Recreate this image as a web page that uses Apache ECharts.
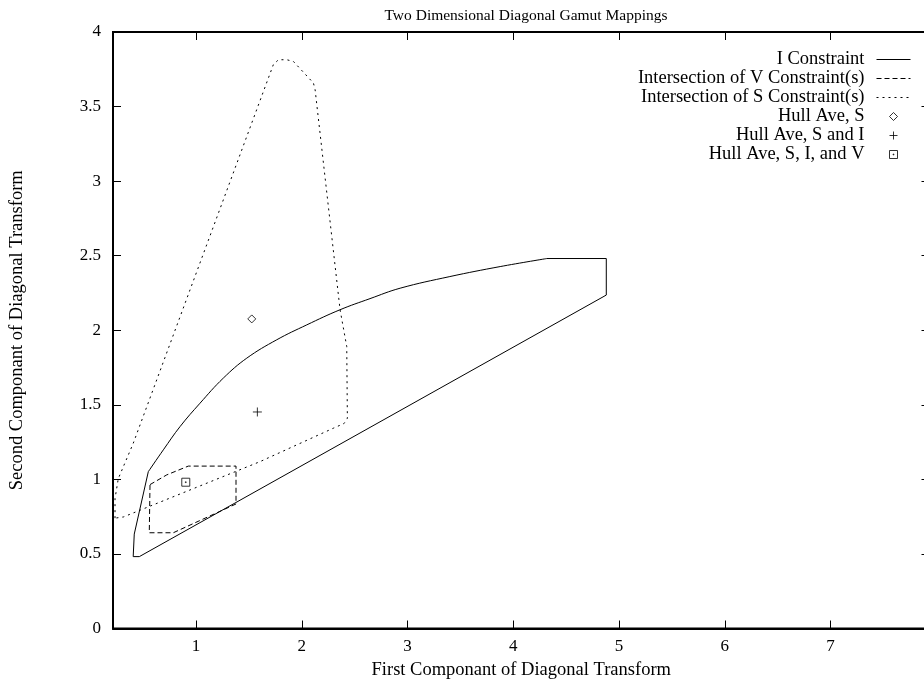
<!DOCTYPE html>
<html>
<head>
<meta charset="utf-8">
<script src="https://cdn.jsdelivr.net/npm/echarts@6/dist/echarts.min.js"></script>
<style>
html, body { margin: 0; padding: 0; background: #fff; }
#chart { width: 924px; height: 684px; }
</style>
</head>
<body>
<div id="chart"></div>
<script>
// ---- data ----
const chartTitle = 'Two Dimensional Diagonal Gamut Mappings';
const xAxisName = 'First Componant of Diagonal Transform';
const yAxisName = 'Second Componant of Diagonal Transform';
const xTickValues = [1, 2, 3, 4, 5, 6, 7];
const yTickValues = [0, 0.5, 1, 1.5, 2, 2.5, 3, 3.5, 4];
const seriesNames = ['I Constraint', 'Intersection of V Constraint(s)', 'Intersection of S Constraint(s)', 'Hull Ave, S', 'Hull Ave, S and I', 'Hull Ave, S, I, and V'];

// I constraint: curved upper boundary and the straight remainder of the outline
const iCurveX = [4.318, 3.876, 3.400, 2.930, 2.645, 2.360, 2.047, 1.763, 1.480, 1.258, 1.038, 0.849, 0.691, 0.549];
const iCurveY = [2.481, 2.427, 2.360, 2.282, 2.212, 2.137, 2.036, 1.936, 1.813, 1.679, 1.511, 1.354, 1.198, 1.052];
const iEdgeX = [0.549, 0.416, 0.406, 0.464, 4.879, 4.879, 4.318];
const iEdgeY = [1.052, 0.633, 0.482, 0.482, 2.236, 2.481, 2.481];

const vConstraintX = [0.565, 0.723, 0.927, 1.378, 1.378, 0.785, 0.558, 0.565];
const vConstraintY = [0.965, 1.030, 1.089, 1.089, 0.835, 0.642, 0.642, 0.965];

const sConstraintX = [0.234, 0.234, 0.265, 0.407, 1.731, 1.779, 1.858, 1.920, 2.110, 2.126, 2.362, 2.425, 2.431, 2.400, 2.298, 1.605, 0.313, 0.234];
const sConstraintY = [0.740, 0.871, 1.005, 1.243, 3.781, 3.814, 3.814, 3.803, 3.658, 3.613, 2.137, 1.891, 1.410, 1.375, 1.343, 1.119, 0.748, 0.740];

const hullSX = [1.527];   const hullSY = [2.076];
const hullSIX = [1.580];  const hullSIY = [1.452];
const hullSIVX = [0.903]; const hullSIVY = [0.981];

const xMin = 0.215, xMax = 7.935, yMin = 0, yMax = 4;

// ---- build chart ----
const FONT = "'Liberation Serif', 'Times New Roman', serif";
const pairs = (xs, ys) => xs.map((x, i) => [x, ys[i]]);

const mkTick = (vals) => ({ show: true, inside: true, length: 8, customValues: vals, lineStyle: { color: '#000', width: 1 } });
const mkLine = () => ({ show: true, onZero: false, lineStyle: { color: '#000', width: 2 } });
const labelStyle = () => ({ color: '#000', fontFamily: FONT, fontSize: 17 });
const nameStyle = () => ({ color: '#000', fontFamily: FONT, fontSize: 18.5 });

const chart = echarts.init(document.getElementById('chart'));

const lineSeries = (name, xs, ys, type, smooth) => ({
  name, type: 'line', data: pairs(xs, ys),
  symbol: 'none', showSymbol: false, smooth: smooth || false,
  lineStyle: { color: '#000', width: 1, type },
  itemStyle: { color: '#000' },
  animation: false, silent: true, z: 3
});
const pointSeries = (name, xs, ys, symbol, size) => ({
  name, type: 'scatter', data: pairs(xs, ys),
  symbol, symbolSize: size,
  itemStyle: { color: 'rgba(0,0,0,0)', borderColor: '#000', borderWidth: 1 },
  animation: false, silent: true, z: 3
});

const hiddenSym = () => ({ opacity: 0, color: 'rgba(0,0,0,0)', borderWidth: 0 });

chart.setOption({
  animation: false,
  title: {
    text: chartTitle, left: 521, top: 3, textAlign: 'center',
    textStyle: { fontFamily: FONT, fontSize: 15.5, fontWeight: 'normal', color: '#000' }
  },
  grid: { left: 113, right: -5.5, top: 32, bottom: 55.5, outerBoundsMode: 'none',
          show: true, backgroundColor: '#fff', borderColor: '#000', borderWidth: 2 },
  legend: {
    orient: 'vertical', right: 8, top: 45, align: 'right',
    itemWidth: 34, itemHeight: 8, itemGap: 0, selectedMode: false,
    textStyle: { fontFamily: FONT, fontSize: 18.5, color: '#000', lineHeight: 18.7, padding: [0, 7, 0, 0] },
    lineStyle: { width: 1 },
    itemStyle: { borderWidth: 1 },
    data: [
      { name: seriesNames[0], itemStyle: hiddenSym() },
      { name: seriesNames[1], itemStyle: hiddenSym() },
      { name: seriesNames[2], itemStyle: hiddenSym() },
      { name: seriesNames[3] },
      { name: seriesNames[4] },
      { name: seriesNames[5] }
    ]
  },
  xAxis: [
    {
      type: 'value', position: 'bottom', min: xMin, max: xMax,
      name: xAxisName, nameLocation: 'middle', nameGap: 29,
      nameTextStyle: nameStyle(),
      axisLine: mkLine(), axisTick: mkTick(xTickValues),
      axisLabel: Object.assign({ customValues: xTickValues, margin: 10 }, labelStyle()),
      splitLine: { show: false }
    },
    {
      type: 'value', position: 'top', min: xMin, max: xMax,
      axisLine: mkLine(), axisTick: mkTick(xTickValues),
      axisLabel: { show: false }, splitLine: { show: false }
    }
  ],
  yAxis: [
    {
      type: 'value', position: 'left', min: yMin, max: yMax,
      name: yAxisName, nameLocation: 'middle', nameGap: 86, nameRotate: 90,
      nameTextStyle: nameStyle(),
      axisLine: mkLine(), axisTick: mkTick(yTickValues),
      axisLabel: Object.assign({ customValues: yTickValues, margin: 12 }, labelStyle()),
      splitLine: { show: false }
    },
    {
      type: 'value', position: 'right', min: yMin, max: yMax,
      axisLine: mkLine(), axisTick: mkTick(yTickValues),
      axisLabel: { show: false }, splitLine: { show: false }
    }
  ],
  series: [
    lineSeries(seriesNames[0], iCurveX, iCurveY, 'solid', 0.4),
    lineSeries(seriesNames[0], iEdgeX, iEdgeY, 'solid', false),
    lineSeries(seriesNames[1], vConstraintX, vConstraintY, [5, 3]),
    lineSeries(seriesNames[2], sConstraintX, sConstraintY, [2, 4]),
    pointSeries(seriesNames[3], hullSX, hullSY, 'path://M5,0L10,5L5,10L0,5Z', 8),
    pointSeries(seriesNames[4], hullSIX, hullSIY, 'path://M5,0L5,10M0,5L10,5', 9),
    pointSeries(seriesNames[5], hullSIVX, hullSIVY, 'path://M0,0L10,0L10,10L0,10Z M4.5,4.5L5.5,4.5L5.5,5.5L4.5,5.5Z', 8)
  ]
});
</script>
</body>
</html>
